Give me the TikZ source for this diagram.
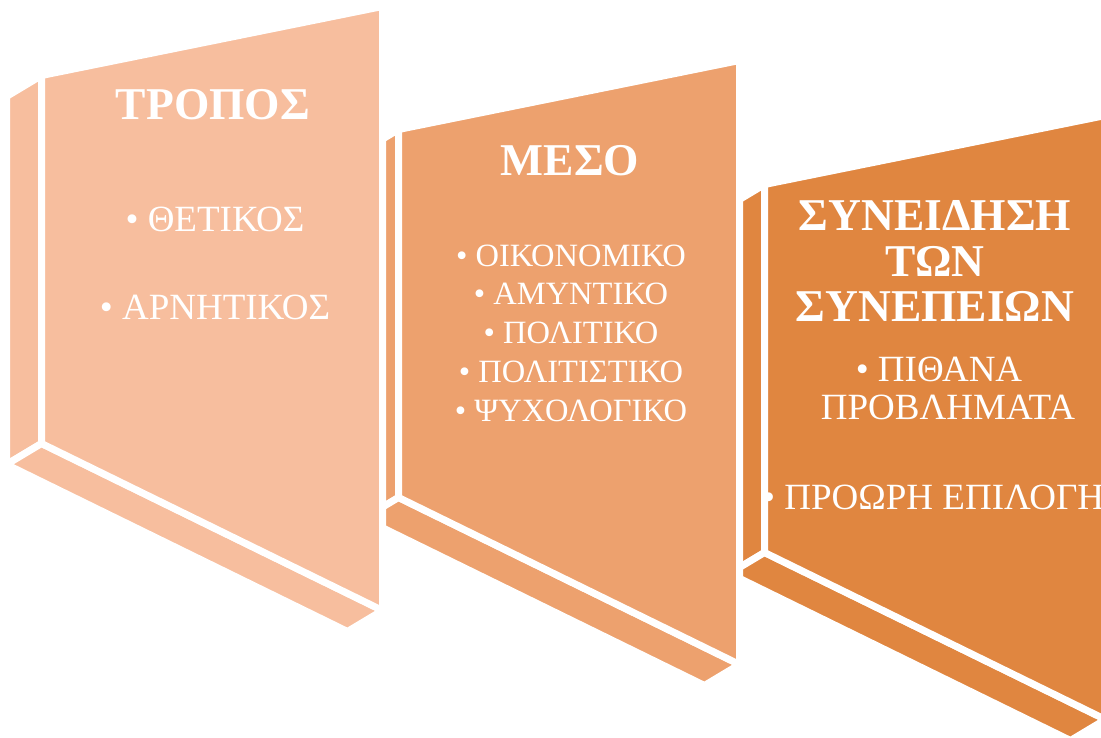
\documentclass[tikz,border=0pt]{standalone}
\usepackage{fontspec}
\setmainfont{Liberation Serif}

\definecolor{panelA}{HTML}{F7BE9E}
\definecolor{panelB}{HTML}{EDA16E}
\definecolor{panelC}{HTML}{E08640}

\tikzset{
  face/.style={draw=white, line width=7, line join=round},
  titletext/.style={text=white, font=\bfseries\fontsize{45.5}{45.5}\selectfont, align=center, inner sep=0},
  itemtext/.style={text=white, font=\fontsize{37}{38.5}\selectfont, align=center, inner sep=0},
  smalltext/.style={itemtext, font=\fontsize{32.5}{38.75}\selectfont}
}

\begin{document}
\begin{tikzpicture}[x=1pt, y=-1pt]
    \useasboundingbox (0,0) rectangle (1101,738);
    \clip (0,0) rectangle (1101,738);

    % 三番目の板
    \begin{scope}[shift={(764.5,184.5)}]
      \filldraw[face, fill=panelC] (0,0) -- (0,368) -- (-35,389) -- (-35,21) -- cycle;
      \filldraw[face, fill=panelC] (0,368) -- (341,535) -- (306,556) -- (-35,389) -- cycle;
      \filldraw[face, fill=panelC] (0,0) -- (341,-69) -- (341,535) -- (0,368) -- cycle;
    \end{scope}

    % 二番目の板
    \begin{scope}[shift={(398.5,129.5)}]
      \filldraw[face, fill=panelB] (0,0) -- (0,368) -- (-35,389) -- (-35,21) -- cycle;
      \filldraw[face, fill=panelB] (0,368) -- (341,535) -- (306,556) -- (-35,389) -- cycle;
      \filldraw[face, fill=panelB] (0,0) -- (341,-69) -- (341,535) -- (0,368) -- cycle;
    \end{scope}

    % 一番目の板
    \begin{scope}[shift={(41.5,75.5)}]
      \filldraw[face, fill=panelA] (0,0) -- (0,368) -- (-35,389) -- (-35,21) -- cycle;
      \filldraw[face, fill=panelA] (0,368) -- (341,535) -- (306,556) -- (-35,389) -- cycle;
      \filldraw[face, fill=panelA] (0,0) -- (341,-69) -- (341,535) -- (0,368) -- cycle;
    \end{scope}

    % 文字を入れる
    \node[titletext] (tropos) at (213,104.5) {ΤΡΟΠΟΣ};
    \node[itemtext] (thetikos) at (215,219.5) {• ΘΕΤΙΚΟΣ};
    \node[itemtext] (arnitikos) at (215,307.5) {• ΑΡΝΗΤΙΚΟΣ};

    \node[titletext] (meso) at (570,160.5) {ΜΕΣΟ};
    \node[smalltext] (mesolist) at (571,333) {• ΟΙΚΟΝΟΜΙΚΟ\\• ΑΜΥΝΤΙΚΟ\\• ΠΟΛΙΤΙΚΟ\\• ΠΟΛΙΤΙΣΤΙΚΟ\\• ΨΥΧΟΛΟΓΙΚΟ};

    \node[titletext] (syneidisi) at (935,261) {ΣΥΝΕΙΔΗΣΗ\\ΤΩΝ\\ΣΥΝΕΠΕΙΩΝ};
    \node[itemtext] (pithana) at (948,388.5) {• ΠΙΘΑΝΑ\kern18pt\\ΠΡΟΒΛΗΜΑΤΑ};
    \node[itemtext, anchor=west] (proori) at (762,497) {• ΠΡΟΩΡΗ ΕΠΙΛΟΓΗ};

\end{tikzpicture}
\end{document}
